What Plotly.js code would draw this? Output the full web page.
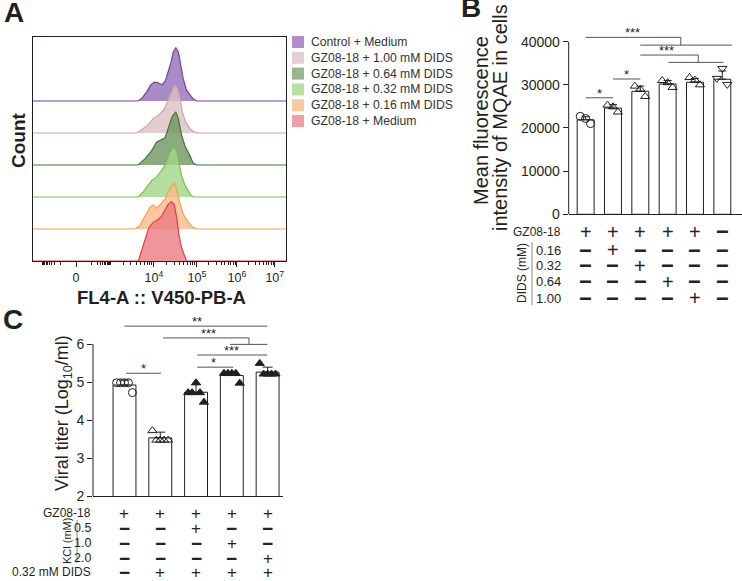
<!DOCTYPE html>
<html><head><meta charset="utf-8">
<script src="https://cdn.plot.ly/plotly-3.0.1.min.js"></script>
<style>html,body{margin:0;padding:0;background:#fff}#chart{width:742px;height:581px}</style>
</head><body><div id="chart"></div>
<script>
const W = 742, H = 581;
const FONT = 'Arial, "Liberation Sans", Helvetica, sans-serif';
const INK = '#231f20';
const px = v => v / W, py = v => 1 - v / H;

// ---------------- Panel A : FL4-A histograms (display scale: 10^4 -> 4, 10^5 -> 5)
const histNames = ['Control + Medium', 'GZ08-18 + 1.00 mM DIDS', 'GZ08-18 + 0.64 mM DIDS',
  'GZ08-18 + 0.32 mM DIDS', 'GZ08-18 + 0.16 mM DIDS', 'GZ08-18 + Medium'];
const histLine = ['#7b3fa0', '#d3a3a6', '#3d7a33', '#79c245', '#f5a04c', '#e63e3f'];
const histFill = ['rgba(148,111,184,0.8)', 'rgba(221,192,194,0.8)', 'rgba(111,149,96,0.8)',
  'rgba(161,214,136,0.8)', 'rgba(249,186,136,0.8)', 'rgba(234,124,130,0.8)'];
const histSwatch = ['#b48ccd', '#e6cfd0', '#97b68b', '#b8e0a0', '#fbc9a0', '#f0a0a4'];

const ctrlX = [3.62, 3.71, 3.83, 3.93, 4.01, 4.10, 4.19, 4.27, 4.33, 4.40, 4.45, 4.51, 4.57, 4.63, 4.68, 4.76, 4.84, 4.91, 4.99];
const ctrlH = [0, 0.07, 0.28, 0.51, 0.59, 0.57, 0.51, 0.64, 0.91, 1.22, 1.53, 1.66, 1.53, 1.06, 0.70, 0.33, 0.18, 0.07, 0];
const d100X = [3.60, 3.75, 3.87, 3.98, 4.10, 4.22, 4.32, 4.41, 4.49, 4.55, 4.61, 4.66, 4.74, 4.84, 4.95, 5.03];
const d100H = [0, 0.14, 0.26, 0.45, 0.55, 0.71, 0.97, 1.28, 1.49, 1.38, 1.07, 0.66, 0.34, 0.13, 0.02, 0];
const d064X = [3.63, 3.79, 3.95, 4.06, 4.18, 4.26, 4.33, 4.42, 4.51, 4.57, 4.64, 4.72, 4.84, 4.91, 5.00];
const d064H = [0, 0.19, 0.45, 0.71, 0.81, 0.85, 1.13, 1.50, 1.66, 1.44, 0.95, 0.60, 0.28, 0.06, 0];
const d032X = [3.64, 3.75, 3.87, 3.95, 4.06, 4.16, 4.24, 4.32, 4.37, 4.45, 4.53, 4.58, 4.64, 4.72, 4.84, 4.91];
const d032H = [0, 0.16, 0.37, 0.52, 0.62, 0.78, 0.94, 1.20, 1.40, 1.56, 1.46, 1.09, 0.68, 0.37, 0.10, 0];
const d016X = [3.56, 3.67, 3.79, 3.91, 3.98, 4.06, 4.16, 4.26, 4.33, 4.41, 4.47, 4.53, 4.61, 4.68, 4.80, 4.91, 4.99];
const d016H = [0, 0.10, 0.37, 0.68, 0.75, 0.65, 0.78, 0.94, 1.15, 1.35, 1.43, 1.25, 0.78, 0.47, 0.21, 0.05, 0];
const medX = [3.64, 3.71, 3.79, 3.88, 3.98, 4.10, 4.18, 4.26, 4.33, 4.41, 4.47, 4.53, 4.58, 4.64, 4.71, 4.76];
const medH = [0, 0.31, 0.63, 1.04, 1.20, 1.30, 1.40, 1.61, 1.77, 1.85, 1.77, 1.35, 0.83, 0.42, 0.16, 0];
const histX = [ctrlX, d100X, d064X, d032X, d016X, medX];
const histH = [ctrlH, d100H, d064H, d032H, d016H, medH];

const aTickVals = [2.19, 4, 5, 5.93, 6.81];
const aTickText = ['0', '10<sup>4</sup>', '10<sup>5</sup>', '10<sup>6</sup>', '10<sup>7</sup>'];
const aDecadePos = [2.55, 2.98, 4, 5, 5.93, 6.81];   // 10^2 ... 10^7 on the display scale
const A_RANGE = [1.19, 7.07];

// ---------------- Panel B : MQAE mean fluorescence
const bGroups = ['GZ08-18', 'GZ08-18 + 0.16', 'GZ08-18 + 0.32', 'GZ08-18 + 0.64', 'GZ08-18 + 1.00', 'Control'];
const bMean = [21900, 24600, 28500, 30200, 30600, 31300];
const bSD = [700, 800, 1200, 800, 850, 1900];
const bPts = [[22700, 22200, 21000], [25300, 24900, 23700], [29700, 29000, 27300],
  [31000, 30500, 29400], [31700, 31100, 30000], [31500, 33800, 30100]];
const bSymbols = ['circle-open', 'triangle-up-open', 'triangle-up-open', 'triangle-up-open', 'triangle-up-open', 'triangle-down-open'];
const bTicks = [0, 10000, 20000, 30000, 40000];
const bRowLabels = ['GZ08-18', '0.16', '0.32', '0.64', '1.00'];
const bSigns = [['+', '+', '+', '+', '+', '−'], ['−', '+', '−', '−', '−', '−'], ['−', '−', '+', '−', '−', '−'],
  ['−', '−', '−', '+', '−', '−'], ['−', '−', '−', '−', '+', '−']];
const bSigLines = [[0, 1, 27000], [1, 2, 31350], [0, 3.48, 41000], [2, 5.35, 39200], [2, 4.12, 36900], [3.03, 5.04, 35200]];
const bSigDrops = [[3.48, 39200, 41000], [4.12, 35200, 36900]];
const bSigStars = [[0.5, 27000, '*'], [1.5, 31350, '*'], [1.71, 41000, '***'], [2.97, 36900, '***']];

// ---------------- Panel C : viral titer
const cMean = [4.92, 3.53, 4.73, 5.17, 5.26];
const cSD = [0.13, 0.15, 0.2, 0.1, 0.13];
const cPts = [[4.98, 4.98, 4.98, 4.98, 4.72], [3.72, 3.47, 3.47, 3.47, 3.47], [4.72, 4.72, 4.98, 4.72, 4.47],
  [5.23, 5.23, 5.23, 5.23, 4.97], [5.49, 5.21, 5.21, 5.21, 5.21]];
const cSymbols = ['circle-open', 'triangle-up-open', 'triangle-up', 'triangle-up', 'triangle-up'];
const cTicks = [2, 3, 4, 5, 6];
const cRowLabels = ['GZ08-18', '0.5', '1.0', '2.0', '0.32 mM DIDS'];
const cSigns = [['+', '+', '+', '+', '+'], ['−', '−', '+', '−', '−'], ['−', '−', '−', '+', '−'],
  ['−', '−', '−', '−', '+'], ['−', '+', '+', '+', '+']];
const cSigLines = [[0.04, 1.02, 5.23], [0, 3.99, 6.47], [1.08, 3.48, 6.16], [2.95, 3.99, 5.99], [2.03, 3.99, 5.71], [2.03, 3.04, 5.39]];
const cSigDrops = [[3.48, 5.99, 6.16]];
const cSigStars = [[0.52, 5.23, '*'], [2.03, 6.47, '**'], [2.34, 6.16, '***'], [3.0, 5.71, '***'], [2.5, 5.39, '*']];

// ================= build
const traces = [], shapes = [], ann = [];
const txt = (x, y, text, o = {}) => Object.assign({
  xref: 'paper', yref: 'paper', x: px(x), y: py(y), text, showarrow: false,
  font: {family: FONT, size: 12, color: INK}, xanchor: 'center', yanchor: 'middle'
}, o);
const sign = (xref, x, y, s, plusSize) => ({
  xref, yref: 'paper', x, y: py(y), showarrow: false, yanchor: 'middle',
  text: s === '−' ? '<b>−</b>' : s,
  font: {family: FONT, size: s === '−' ? plusSize + 2 : plusSize, color: '#2b2220'}
});

// Panel A curves (top row first so lower rows overlap it)
histX.forEach((xs, i) => {
  const base = histX.length - 1 - i;
  traces.push({
    type: 'scatter', mode: 'lines', xaxis: 'x', yaxis: 'y', hoverinfo: 'skip', showlegend: false,
    x: [A_RANGE[0], ...xs, A_RANGE[1]],
    y: [base, ...histH[i].map(h => base + h), base],
    fill: 'toself', fillcolor: histFill[i], line: {color: histLine[i], width: 1.2}
  });
});
const aMinor = [];
for (let d = 0; d < aDecadePos.length - 1; d++) {
  for (let k = 2; k <= 9; k++) {
    const p = aDecadePos[d] + Math.log10(k) * (aDecadePos[d + 1] - aDecadePos[d]);
    aMinor.push(p);
    if (d < 2) aMinor.push(2 * aTickVals[0] - p);
  }
}
aDecadePos.slice(0, 2).forEach(p => aMinor.push(p, 2 * aTickVals[0] - p));

// legend A
histNames.forEach((n, i) => {
  const yc = 42 + i * 15.8;
  shapes.push({type: 'rect', xref: 'paper', yref: 'paper', x0: px(292), x1: px(304), y0: py(yc + 6), y1: py(yc - 6),
    fillcolor: histSwatch[i], line: {width: 0}});
  ann.push(txt(309, yc, n, {xanchor: 'left', font: {family: FONT, size: 12.2, color: '#333'}}));
});
ann.push(txt(18, 140, '<b>Count</b>', {textangle: -90, font: {family: FONT, size: 19, color: INK}}));
ann.push(txt(161, 297, '<b>FL4-A :: V450-PB-A</b>', {font: {family: FONT, size: 18.5, color: INK}}));

// Panel B
traces.push({type: 'bar', xaxis: 'x2', yaxis: 'y2', x: bGroups.map((g, i) => i), y: bMean, width: 0.62,
  marker: {color: '#fff', line: {color: INK, width: 1}}, hoverinfo: 'skip', showlegend: false,
  error_y: {type: 'data', symmetric: false, array: bSD, arrayminus: bSD.map(() => 0), color: INK, thickness: 1, width: 4}});
const bJit = [-0.2, 0, 0.18];
bPts.forEach((pts, i) => traces.push({type: 'scatter', mode: 'markers', xaxis: 'x2', yaxis: 'y2', hoverinfo: 'skip', showlegend: false,
  x: pts.map((v, j) => i + bJit[j]), y: pts, marker: {symbol: bSymbols[i], size: 8, color: INK, line: {width: 1, color: INK}}}));
shapes.push({type: 'line', xref: 'paper', yref: 'y2', x0: px(568.7), x1: px(568.7), y0: 0, y1: 40000, line: {color: INK, width: 1}});
bSigLines.forEach(s => shapes.push({type: 'line', xref: 'x2', yref: 'y2', x0: s[0], x1: s[1], y0: s[2], y1: s[2], line: {color: '#555', width: 1}}));
bSigDrops.forEach(s => shapes.push({type: 'line', xref: 'x2', yref: 'y2', x0: s[0], x1: s[0], y0: s[1], y1: s[2], line: {color: '#555', width: 1}}));
bSigStars.forEach(s => ann.push({xref: 'x2', yref: 'y2', x: s[0], y: s[1], text: s[2], showarrow: false, yanchor: 'bottom', yshift: -5,
  font: {family: FONT, size: 13, color: INK}}));
ann.push(txt(481, 121, 'Mean fluorescence', {textangle: -90, font: {family: FONT, size: 20, color: INK}}));
ann.push(txt(500, 118, 'intensity of MQAE in cells', {textangle: -90, font: {family: FONT, size: 20, color: INK}}));
const bRowY = [232, 250, 266, 282, 298];
bRowLabels.forEach((l, r) => {
  ann.push(txt(563, bRowY[r], l, {xanchor: 'right', font: {family: FONT, size: r === 0 ? 12 : 13, color: INK}}));
  bSigns[r].forEach((s, c) => ann.push(sign('x2', c, bRowY[r], s, 20)));
});
shapes.push({type: 'line', xref: 'paper', yref: 'paper', x0: px(532), x1: px(532), y0: py(242), y1: py(305), line: {color: '#888', width: 1}});
ann.push(txt(522, 273, 'DIDS (mM)', {textangle: -90, font: {family: FONT, size: 12, color: INK}}));

// Panel C
traces.push({type: 'bar', xaxis: 'x3', yaxis: 'y3', x: cMean.map((v, i) => i), y: cMean, width: 0.64,
  marker: {color: '#fff', line: {color: INK, width: 1}}, hoverinfo: 'skip', showlegend: false,
  error_y: {type: 'data', symmetric: false, array: cSD, arrayminus: cSD.map(() => 0), color: INK, thickness: 1, width: 5}});
const cJit = [-0.22, -0.11, 0, 0.11, 0.22];
cPts.forEach((pts, i) => traces.push({type: 'scatter', mode: 'markers', xaxis: 'x3', yaxis: 'y3', hoverinfo: 'skip', showlegend: false,
  x: pts.map((v, j) => i + cJit[j]), y: pts, marker: {symbol: cSymbols[i], size: 8, color: INK, line: {width: 1, color: INK}}}));
shapes.push({type: 'line', xref: 'paper', yref: 'y3', x0: px(93), x1: px(93), y0: 2, y1: 6, line: {color: INK, width: 1}});
cSigLines.forEach(s => shapes.push({type: 'line', xref: 'x3', yref: 'y3', x0: s[0], x1: s[1], y0: s[2], y1: s[2], line: {color: '#555', width: 1}}));
cSigDrops.forEach(s => shapes.push({type: 'line', xref: 'x3', yref: 'y3', x0: s[0], x1: s[0], y0: s[1], y1: s[2], line: {color: '#555', width: 1}}));
cSigStars.forEach(s => ann.push({xref: 'x3', yref: 'y3', x: s[0], y: s[1], text: s[2], showarrow: false, yanchor: 'bottom', yshift: -5,
  font: {family: FONT, size: 13, color: INK}}));
ann.push(txt(63, 413, 'Viral titer (Log<sub>10</sub>/ml)', {textangle: -90, font: {family: FONT, size: 18, color: INK}}));
const cRowY = [513, 528, 543, 558, 572];
cRowLabels.forEach((l, r) => {
  ann.push(txt(93, cRowY[r], l, {xanchor: 'right', font: {family: FONT, size: (r === 0 || r === 4) ? 12 : 12.5, color: INK}}));
  cSigns[r].forEach((s, c) => ann.push(sign('x3', c, cRowY[r], s, 17)));
});
shapes.push({type: 'line', xref: 'paper', yref: 'paper', x0: px(77), x1: px(77), y0: py(520), y1: py(563), line: {color: '#888', width: 1}});
ann.push(txt(67, 541, 'KCl (mM)', {textangle: -90, font: {family: FONT, size: 11, color: INK}}));

// panel letters
ann.push(txt(14, 13, '<b>A</b>', {font: {family: FONT, size: 28, color: INK}}));
ann.push(txt(471, 7, '<b>B</b>', {font: {family: FONT, size: 28, color: INK}}));
ann.push(txt(13, 320, '<b>C</b>', {font: {family: FONT, size: 28, color: INK}}));

const ax = {showgrid: false, zeroline: false, fixedrange: true, linecolor: INK, linewidth: 1, tickcolor: INK,
  tickfont: {family: FONT, size: 14, color: INK}};
const layout = {
  width: W, height: H, margin: {l: 0, r: 0, t: 0, b: 0}, paper_bgcolor: '#fff', plot_bgcolor: 'rgba(0,0,0,0)',
  showlegend: false, font: {family: FONT, color: INK}, bargap: 0,
  xaxis: Object.assign({}, ax, {domain: [px(33), px(286)], range: A_RANGE, anchor: 'y', showline: true, mirror: true,
    ticks: 'outside', ticklen: 5, tickvals: aTickVals, ticktext: aTickText, layer: 'below traces',
    tickfont: {family: FONT, size: 12.5, color: INK},
    minor: {tickmode: 'array', tickvals: aMinor, ticks: 'outside', ticklen: 3, tickcolor: INK, showgrid: false}}),
  yaxis: Object.assign({}, ax, {domain: [py(261), py(37)], range: [0, 7], anchor: 'x', showline: true, mirror: true,
    ticks: '', showticklabels: false}),
  xaxis2: Object.assign({}, ax, {domain: [px(568.7), 1], range: [-0.62, 5.72], anchor: 'y2', showline: true, ticks: '', showticklabels: false}),
  yaxis2: Object.assign({}, ax, {domain: [py(214.3), py(20.1)], range: [0, 45000], anchor: 'x2', showline: false,
    ticks: 'outside', ticklen: 5, tickvals: bTicks, tickformat: 'd'}),
  xaxis3: Object.assign({}, ax, {domain: [px(93), px(283)], range: [-0.88, 4.43], anchor: 'y3', showline: true, ticks: '', showticklabels: false}),
  yaxis3: Object.assign({}, ax, {domain: [py(496), py(313.6)], range: [2, 6.8], anchor: 'x3', showline: false,
    ticks: 'outside', ticklen: 5, tickvals: cTicks}),
  shapes, annotations: ann
};
Plotly.newPlot('chart', traces, layout, {displayModeBar: false, staticPlot: true});
</script></body></html>
